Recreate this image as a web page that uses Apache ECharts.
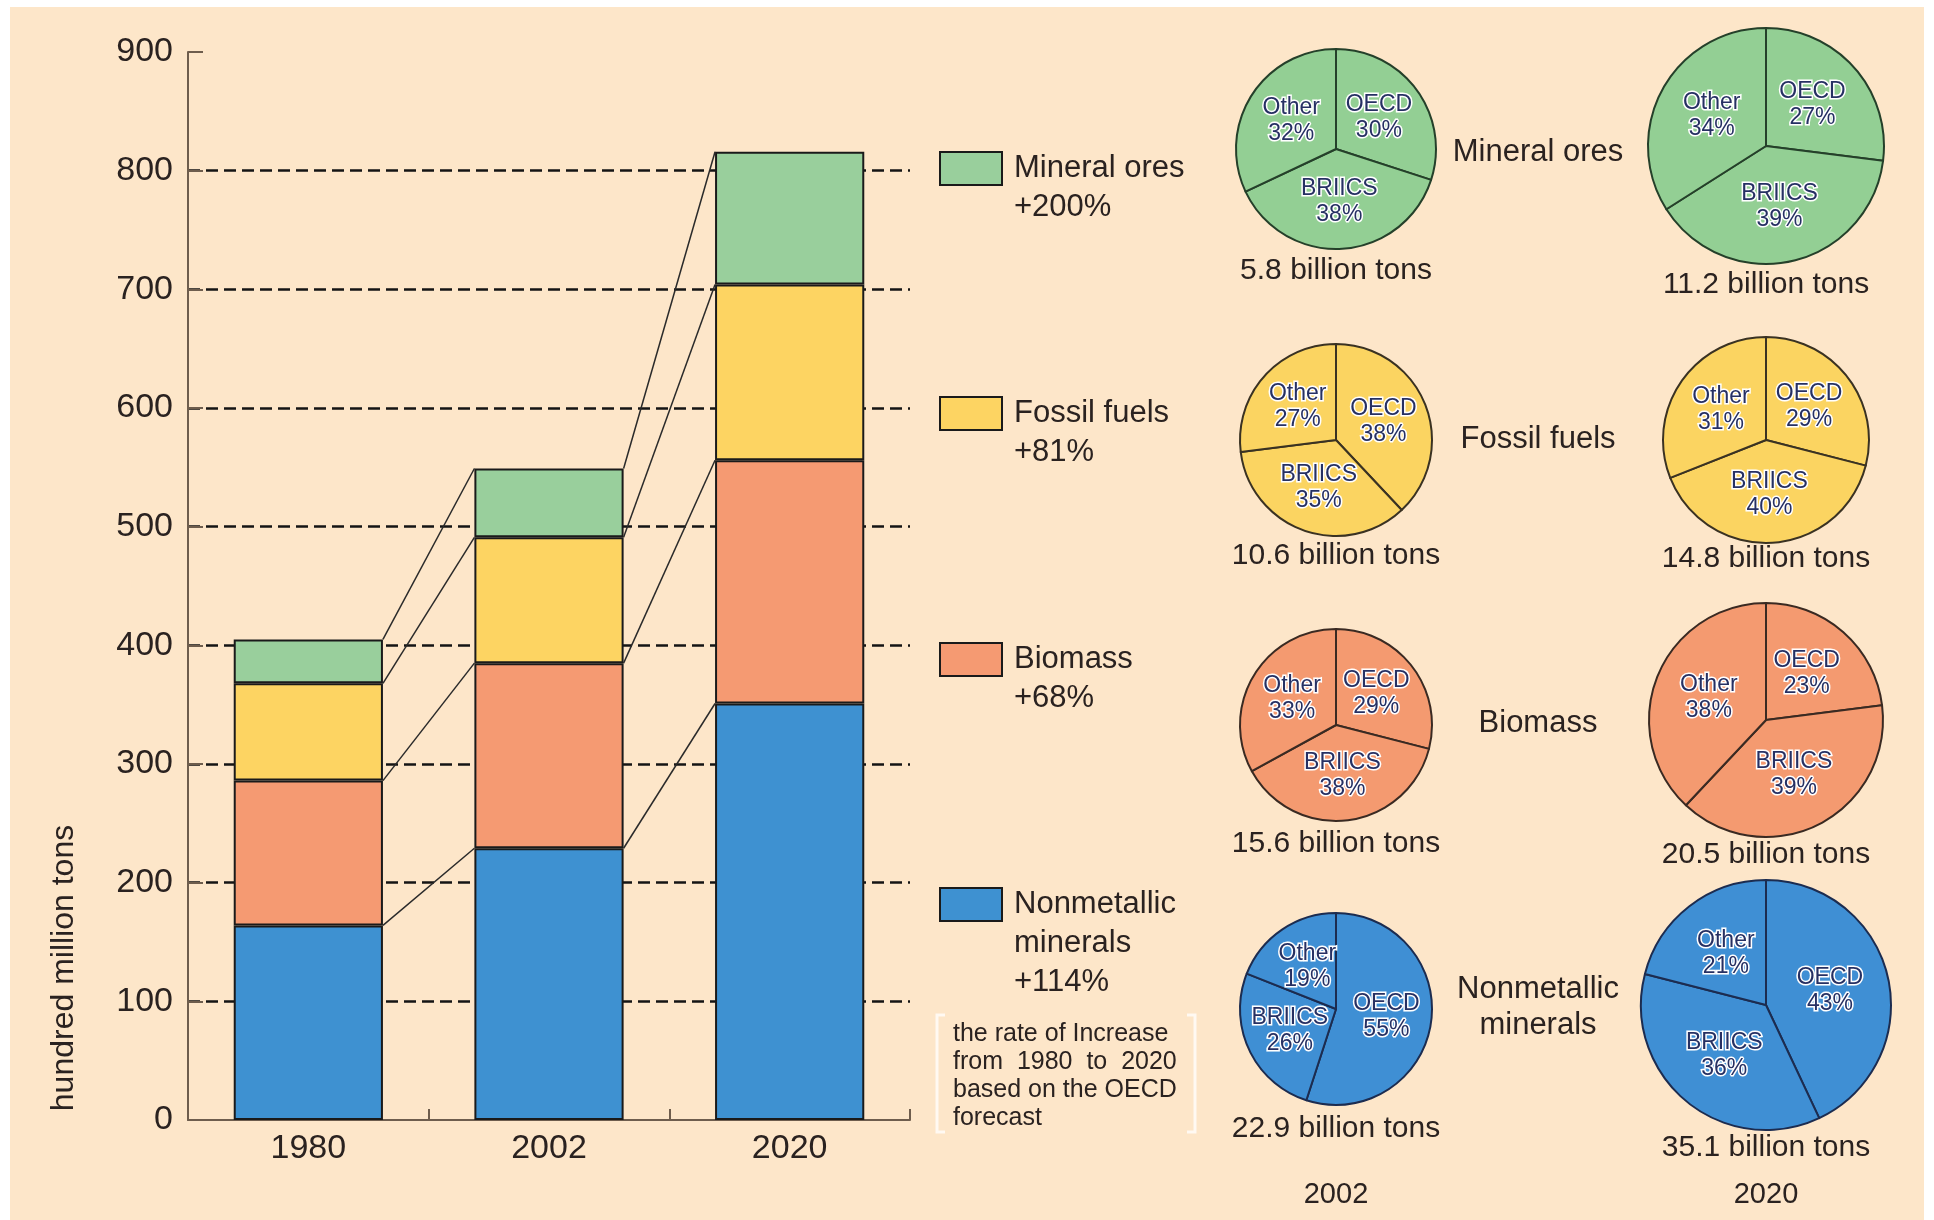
<!DOCTYPE html>
<html><head><meta charset="utf-8">
<script src="https://cdn.jsdelivr.net/npm/echarts@6/dist/echarts.min.js"></script>
<style>
html,body{margin:0;padding:0;background:#fff;}
#bg{position:absolute;left:10px;top:7px;width:1914px;height:1213px;background:#fde6c9;}
#c{position:absolute;left:0;top:0;width:1934px;height:1220px;}
</style>
</head><body><div id="bg"></div><div id="c"></div>
<script>
// ---------- data ----------
const categories = ['1980', '2002', '2020'];
const seriesNames = ['Nonmetallic\nminerals', 'Biomass', 'Fossil fuels', 'Mineral ores'];
const nonmetallic = [164, 229, 351];
const biomass = [122, 156, 205];
const fossil = [82, 106, 148];
const mineral = [37, 58, 112];
const increaseLabels = ['+114%', '+68%', '+81%', '+200%'];
const noteLines = ['the rate of Increase', 'from  1980  to  2020', 'based on the OECD', 'forecast'];
const yAxisName = 'hundred million tons';

const pieRegions = ['OECD', 'BRIICS', 'Other'];
const pieYears = ['2002', '2020'];
const nonmetallicShares2002 = [55, 26, 19];
const nonmetallicShares2020 = [43, 36, 21];
const biomassShares2002 = [29, 38, 33];
const biomassShares2020 = [23, 39, 38];
const fossilShares2002 = [38, 35, 27];
const fossilShares2020 = [29, 40, 31];
const mineralShares2002 = [30, 38, 32];
const mineralShares2020 = [27, 39, 34];

// ---------- styling / layout ----------
const FONT = '"Liberation Sans", Arial, Helvetica, sans-serif';
const TXT = '#2a2220';
const colors = ['#3e91d1', '#f59a72', '#fdd462', '#99cf9c'];
const pieColors = ['#3f8fd4', '#f49a70', '#fbd461', '#93cf94'];
const pieBorders = ['#1c2c50', '#3a2a22', '#3a3222', '#25402a'];
const stackData = [nonmetallic, biomass, fossil, mineral];
const pieShares = [
  [nonmetallicShares2002, nonmetallicShares2020],
  [biomassShares2002, biomassShares2020],
  [fossilShares2002, fossilShares2020],
  [mineralShares2002, mineralShares2020]
];
const pieX = [1336, 1766];
const pieY = [[1009, 1005], [725, 720], [440, 440], [149, 146]];
const pieR = [[96, 125], [96, 117], [96, 103], [100, 118]];
const totalY = [[1129, 1148], [844, 855], [556, 559], [271, 285]];
const nameY = [1007, 723, 439, 152];
const legendBoxTop = [888, 643, 397, 152];
const BAR_W = 0.62;

const chart = echarts.init(document.getElementById('c'), null, {renderer: 'canvas'});

const barSeries = seriesNames.map((n, k) => ({
  type: 'bar', name: n, stack: 'total', data: stackData[k],
  barWidth: (BAR_W * 100) + '%',
  itemStyle: {color: colors[k], borderColor: '#1a1a1a', borderWidth: 2},
  z: 3, silent: true
}));

const connector = {
  type: 'custom', z: 4, silent: true,
  data: categories.slice(0, -1).map((c, i) => [i, 0]),
  encode: {x: 0, y: 1},
  renderItem: (params, api) => {
    const i = params.dataIndex;
    const hw = api.size([1, 0])[0] * BAR_W / 2;
    const children = [];
    let c0 = 0, c1 = 0;
    for (let k = 0; k < stackData.length; k++) {
      c0 += stackData[k][i];
      c1 += stackData[k][i + 1];
      const p0 = api.coord([i, c0]);
      const p1 = api.coord([i + 1, c1]);
      children.push({
        type: 'line',
        shape: {x1: p0[0] + hw, y1: p0[1], x2: p1[0] - hw, y2: p1[1]},
        style: {stroke: '#2a2a2a', lineWidth: 1.5}
      });
    }
    return {type: 'group', children};
  }
};

const pieSeries = [];
pieShares.forEach((pair, k) => {
  pair.forEach((shares, j) => {
    pieSeries.push({
      type: 'pie', silent: true,
      center: [pieX[j], pieY[k][j]],
      radius: pieR[k][j],
      startAngle: 90, clockwise: true,
      avoidLabelOverlap: false,
      itemStyle: {color: pieColors[k], borderColor: pieBorders[k], borderWidth: 2},
      label: {
        show: true, position: 'inside',
        formatter: p => p.name + '\n' + p.value + '%',
        color: '#263063', fontFamily: FONT, fontSize: 23, lineHeight: 26,
        textBorderColor: '#ffffff', textBorderWidth: 3
      },
      labelLine: {show: false},
      data: pieRegions.map((r, m) => ({name: r, value: shares[m]}))
    });
  });
});

const graphics = [];
// axis title
graphics.push({
  type: 'text', x: 64, y: 968, rotation: Math.PI / 2,
  style: {text: yAxisName, fontSize: 32, fontFamily: FONT, fill: TXT, align: 'center', verticalAlign: 'middle'}
});
// legend
seriesNames.forEach((n, k) => {
  const top = legendBoxTop[k];
  graphics.push({
    type: 'rect', shape: {x: 940, y: top, width: 62, height: 33},
    style: {fill: colors[k], stroke: '#1a1a1a', lineWidth: 2}
  });
  graphics.push({
    type: 'text', x: 1014, y: top + 16.5 - 19.5,
    style: {text: n + '\n' + increaseLabels[k], fontSize: 31, fontFamily: FONT, fill: TXT, lineHeight: 39, align: 'left', verticalAlign: 'top'}
  });
  // pie category name
  graphics.push({
    type: 'text', x: 1538, y: nameY[k],
    style: {text: n, fontSize: 31, fontFamily: FONT, fill: TXT, lineHeight: 36, align: 'center', verticalAlign: 'middle'}
  });
  // totals under pies (hundred million tons -> billion tons)
  [1, 2].forEach((ci, j) => {
    graphics.push({
      type: 'text', x: pieX[j], y: totalY[k][j],
      style: {text: (stackData[k][ci] / 10).toFixed(1) + ' billion tons', fontSize: 30, fontFamily: FONT, fill: TXT, align: 'center', verticalAlign: 'middle'}
    });
  });
});
// note
graphics.push({
  type: 'text', x: 953, y: 1020,
  style: {text: noteLines.join('\n'), fontSize: 25, fontFamily: FONT, fill: TXT, lineHeight: 28, align: 'left', verticalAlign: 'top'}
});
// faint brackets around note
[[937, 1], [1195, -1]].forEach(([bx, d]) => {
  graphics.push({
    type: 'polyline', shape: {points: [[bx + 8 * d, 1015], [bx, 1015], [bx, 1132], [bx + 8 * d, 1132]]},
    style: {stroke: 'rgba(255,255,255,0.75)', lineWidth: 3, fill: null}
  });
});
// year labels under pie columns
pieYears.forEach((y, j) => {
  graphics.push({
    type: 'text', x: pieX[j], y: 1195,
    style: {text: y, fontSize: 29, fontFamily: FONT, fill: TXT, align: 'center', verticalAlign: 'middle'}
  });
});

const axisColor = '#6e5d4d';
chart.setOption({
  animation: false,
  backgroundColor: 'transparent',
  grid: {left: 188, right: 1024, top: 52, bottom: 100, containLabel: false},
  xAxis: {
    type: 'category', data: categories,
    axisLine: {lineStyle: {color: axisColor, width: 2}},
    axisTick: {show: true, inside: true, length: 11, lineStyle: {color: axisColor, width: 2}},
    axisLabel: {fontSize: 34, fontFamily: FONT, color: TXT, margin: 12},
    splitLine: {show: false}
  },
  yAxis: {
    type: 'value', min: 0, max: 900, interval: 100,
    axisLine: {show: true, lineStyle: {color: axisColor, width: 2}},
    axisTick: {show: true, inside: true, length: 15, lineStyle: {color: axisColor, width: 2}},
    axisLabel: {fontSize: 34, fontFamily: FONT, color: TXT, margin: 15},
    splitLine: {show: true, showMinLine: false, showMaxLine: false, lineStyle: {color: '#141414', width: 2.5, type: [12, 6]}}
  },
  series: [...barSeries, connector, ...pieSeries],
  graphic: graphics
});
</script>
</body></html>
